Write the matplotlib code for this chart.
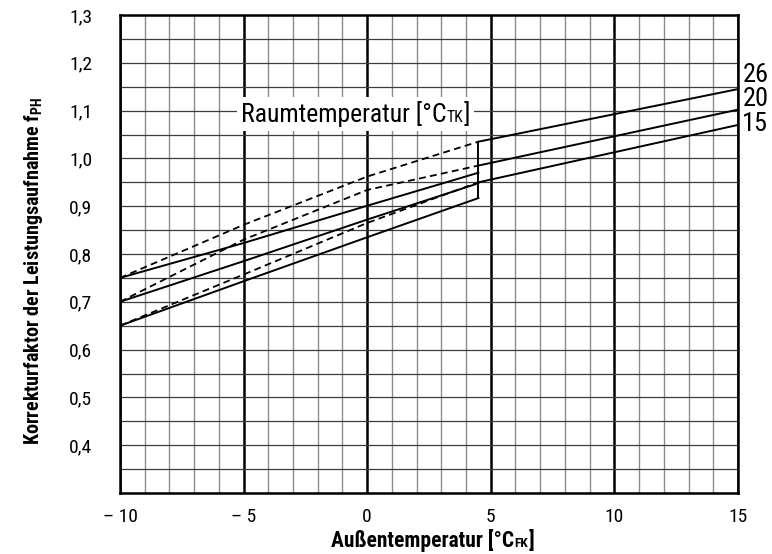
import numpy as np
import matplotlib
matplotlib.use("Agg")
from matplotlib import pyplot as plt
from matplotlib import font_manager
from matplotlib.offsetbox import TextArea, HPacker, AnnotationBbox

# Schriftart: schmale Schrift, falls vorhanden
avail = {f.name for f in font_manager.fontManager.ttflist}
wunsch = ['Liberation Sans Narrow', 'Roboto Condensed', 'DejaVu Sans Condensed',
          'Open Sans Condensed', 'Noto Sans Condensed', 'Liberation Sans']
narrow = [n for n in wunsch if n in avail][0]
plt.rcParams['font.family'] = [narrow, 'DejaVu Sans']
plt.rcParams['mathtext.fontset'] = 'custom'
plt.rcParams['mathtext.rm'] = narrow
plt.rcParams['mathtext.bf'] = narrow + ':bold'

# Daten
x_links = [-10, -5, 0, 4.5]          # Bereich bis 4,5 °C
x_rechts = [4.5, 15]                 # Bereich ab 4,5 °C

# gestrichelt: Fortsetzung der rechten Kurven
gestr_26 = [0.75, 0.861, 0.962, 1.035]
gestr_20 = [0.70, 0.830, 0.934, 0.985]
gestr_15 = [0.65, 0.757, 0.865, 0.950]

# durchgezogen links
durch_26 = [0.75, 0.823, 0.901, 0.970]
durch_20 = [0.70, 0.785, 0.872, 0.948]
durch_15 = [0.65, 0.743, 0.835, 0.917]

# rechts
rechts_26 = [1.035, 1.145]
rechts_20 = [0.985, 1.102]
rechts_15 = [0.950, 1.070]

raumtemp = ['26', '20', '15']
label_y = [1.174, 1.124, 1.072]

x_ticks = [-10, -5, 0, 5, 10, 15]
x_ticklabels = ['– 10', '– 5', '0', '5', '10', '15']
y_ticks = [0.4, 0.5, 0.6, 0.7, 0.8, 0.9, 1.0, 1.1, 1.2, 1.3]
y_ticklabels = ['0,4', '0,5', '0,6', '0,7', '0,8', '0,9', '1,0', '1,1', '1,2', '1,3']


def text_mit_index(teile, groesse, gewicht='normal'):
    # Text mit kleinem Index auf der Grundlinie (z.B. °C + TK)
    kinder = []
    for i, t in enumerate(teile):
        gr = groesse * 0.62 if i == 1 else groesse
        kinder.append(TextArea(t, textprops=dict(fontsize=gr, fontweight=gewicht)))
    return HPacker(children=kinder, align='baseline', pad=0, sep=0)


fig = plt.figure(figsize=(7.72, 5.54), dpi=100)
ax = fig.add_axes([0.1554, 0.1101, 0.8005, 0.8628])

ax.set_xlim(-10, 15)
ax.set_ylim(0.3, 1.3)

# Gitter
ax.set_xticks(x_ticks)
ax.set_xticklabels(x_ticklabels, fontsize=14)
ax.set_xticks(np.arange(-10, 16, 1), minor=True)
ax.set_yticks(y_ticks)
ax.set_yticklabels(y_ticklabels, fontsize=14)
ax.set_yticks(np.arange(0.3, 1.31, 0.05), minor=True)
ax.grid(which='minor', axis='x', color='#8c8c8c', lw=1.0)
ax.grid(which='major', axis='x', color='black', lw=1.8)
ax.grid(which='both', axis='y', color='#3c3c3c', lw=0.9)
ax.set_axisbelow(True)
ax.tick_params(which='both', length=0)
ax.tick_params(axis='x', pad=11)
ax.tick_params(axis='y', pad=20)
for s in ax.spines.values():
    s.set_linewidth(1.8)

lw = 1.4
for ys in [gestr_26, gestr_20, gestr_15]:
    ax.plot(x_links, ys, color='black', lw=1.3, dashes=(3.8, 2.4), zorder=3)
for ys in [durch_26, durch_20, durch_15]:
    ax.plot(x_links, ys, color='black', lw=lw, zorder=3)
for ys in [rechts_26, rechts_20, rechts_15]:
    ax.plot(x_rechts, ys, color='black', lw=lw, zorder=3)
# senkrechter Sprung bei 4,5 °C
ax.plot([x_links[-1], x_rechts[0]], [durch_15[-1], rechts_26[0]], color='black', lw=lw, zorder=3)

for t, yy in zip(raumtemp, label_y):
    ax.text(15.18, yy, t, fontsize=19, va='center', ha='left', clip_on=False)

# Beschriftung Raumtemperatur mit weißem Hintergrund
raum = text_mit_index(['Raumtemperatur [°C', 'TK', ']'], 18.5)
ab = AnnotationBbox(raum, (-0.47, 1.093), xycoords='data', box_alignment=(0.5, 0.5),
                    frameon=True, pad=0.35, zorder=4,
                    bboxprops=dict(fc='white', ec='none', boxstyle='square'))
ax.add_artist(ab)

# x-Achsentitel
xtitel = text_mit_index(['Außentemperatur [°C', 'FK', ']'], 15.5, 'bold')
ab = AnnotationBbox(xtitel, (0.506, -0.100), xycoords='axes fraction',
                    box_alignment=(0.5, 0.5), frameon=False, annotation_clip=False)
ax.add_artist(ab)

ax.set_ylabel(r'Korrekturfaktor der Leistungsaufnahme f$_{\mathbf{PH}}$', fontsize=14.5,
              fontweight='bold')
ax.yaxis.set_label_coords(-0.121, 0.464)

fig.savefig('out.png', dpi=100)
